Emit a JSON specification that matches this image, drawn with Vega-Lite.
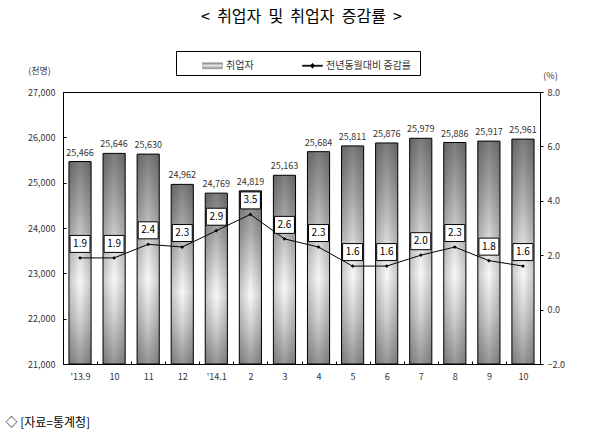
{
  "$schema": "https://vega.github.io/schema/vega-lite/v6.json",
  "width": 477,
  "height": 272,
  "autosize": {"type": "none"},
  "padding": {"left": 63, "top": 92, "right": 53, "bottom": 70},
  "background": "white",
  "title": {
    "text": "<\u00a0\u00a0취업자\u00a0\u00a0및\u00a0\u00a0취업자\u00a0\u00a0증감률\u00a0\u00a0>",
    "fontSize": 16,
    "fontWeight": "normal",
    "color": "black",
    "offset": 26
  },
  "config": {
    "font": "Noto Sans CJK KR",
    "view": {"stroke": "black", "strokeWidth": 1},
    "axis": {
      "labelFontSize": 9,
      "labelColor": "#333",
      "domainColor": "black",
      "tickColor": "black",
      "grid": false,
      "titleFontWeight": "normal",
      "titleFontSize": 9,
      "titleColor": "#333"
    }
  },
  "data": {
    "values": [
      {"ym": "2013.09", "employed": 25466, "rate": 1.9},
      {"ym": "2013.10", "employed": 25646, "rate": 1.9},
      {"ym": "2013.11", "employed": 25630, "rate": 2.4},
      {"ym": "2013.12", "employed": 24962, "rate": 2.3},
      {"ym": "2014.01", "employed": 24769, "rate": 2.9},
      {"ym": "2014.02", "employed": 24819, "rate": 3.5},
      {"ym": "2014.03", "employed": 25163, "rate": 2.6},
      {"ym": "2014.04", "employed": 25684, "rate": 2.3},
      {"ym": "2014.05", "employed": 25811, "rate": 1.6},
      {"ym": "2014.06", "employed": 25876, "rate": 1.6},
      {"ym": "2014.07", "employed": 25979, "rate": 2.0},
      {"ym": "2014.08", "employed": 25886, "rate": 2.3},
      {"ym": "2014.09", "employed": 25917, "rate": 1.8},
      {"ym": "2014.10", "employed": 25961, "rate": 1.6}
    ]
  },
  "encoding": {
    "x": {
      "field": "ym",
      "type": "nominal",
      "sort": null,
      "scale": {"paddingInner": 0.35, "paddingOuter": 0.175},
      "axis": {
        "title": "◇ [자료=통계청]",
        "titleX": -58,
        "titleY": 58,
        "titleAlign": "left",
        "titleBaseline": "middle",
        "titleFontSize": 12,
        "titleColor": "black",
        "labelAngle": 0,
        "labelPadding": 11,
        "tickSize": -3,
        "tickOffset": -17,
        "labelOffset": 17,
        "labelExpr": "(substring(datum.value, 5, 7) == '01' || datum.value == '2013.09') ? \"'\" + substring(datum.value, 2, 4) + '.' + toNumber(substring(datum.value, 5, 7)) : '' + toNumber(substring(datum.value, 5, 7))"
      }
    }
  },
  "layer": [
    {
      "encoding": {
        "y": {
          "field": "employed",
          "type": "quantitative",
          "scale": {"domain": [21000, 27000], "zero": false, "nice": false},
          "axis": {
            "orient": "left",
            "values": [21000, 22000, 23000, 24000, 25000, 26000, 27000],
            "format": ",d",
            "tickSize": -3,
            "labelPadding": 11,
            "title": "(천명)",
            "titleAngle": 0,
            "titleX": -24,
            "titleY": -22,
            "titleAlign": "center",
            "titleBaseline": "middle"
          }
        },
        "y2": {"datum": 21000}
      },
      "layer": [
        {
          "mark": {
            "type": "bar",
            "strokeWidth": 0,
            "fill": {
              "gradient": "linear",
              "x1": 0, "y1": 0, "x2": 0, "y2": 1,
              "stops": [
                {"offset": 0, "color": "#7c7c7c"},
                {"offset": 0.25, "color": "#aeaeae"},
                {"offset": 0.5, "color": "#e6e6e6"},
                {"offset": 0.6, "color": "#f8f8f8"},
                {"offset": 0.78, "color": "#d2d2d2"},
                {"offset": 1, "color": "#969696"}
              ]
            }
          }
        },
        {
          "mark": {
            "type": "bar",
            "stroke": "black",
            "strokeWidth": 1,
            "fill": {
              "gradient": "linear",
              "x1": 0, "y1": 0, "x2": 1, "y2": 0,
              "stops": [
                {"offset": 0, "color": "rgba(0,0,0,0.2)"},
                {"offset": 0.5, "color": "rgba(0,0,0,0)"},
                {"offset": 1, "color": "rgba(0,0,0,0.2)"}
              ]
            }
          }
        },
        {
          "mark": {"type": "text", "baseline": "bottom", "dy": -4, "fontSize": 9, "color": "#333"},
          "encoding": {"text": {"field": "employed", "type": "quantitative", "format": ","}, "y2": null}
        }
      ]
    },
    {
      "encoding": {
        "y": {
          "field": "rate",
          "type": "quantitative",
          "scale": {"domain": [-2, 8], "nice": false},
          "axis": {
            "orient": "right",
            "values": [-2, 0, 2, 4, 6, 8],
            "format": ".1f",
            "tickSize": 3,
            "labelPadding": 4,
            "title": "(%)",
            "titleAngle": 0,
            "titleX": 10,
            "titleY": -17,
            "titleAlign": "center",
            "titleBaseline": "middle"
          }
        }
      },
      "layer": [
        {
          "mark": {"type": "line", "strokeWidth": 1},
          "encoding": {
            "color": {
              "datum": "전년동월대비 증감률",
              "scale": {"domain": ["취업자", "전년동월대비 증감률"], "range": ["#a0a0a0", "black"]},
              "legend": {
                "title": "\u00a0",
                "titleOrient": "right",
                "titlePadding": 5,
                "titleFontSize": 9,
                "orient": "none",
                "legendX": 113,
                "legendY": -41,
                "direction": "horizontal",
                "strokeColor": "black",
                "padding": 4,
                "symbolOffset": 22,
                "columnPadding": 26,
                "labelFontSize": 10,
                "labelColor": "#333",
                "labelOffset": 3,
                "symbolSize": 400,
                "encode": {
                  "symbols": {
                    "update": {
                      "shape": {"signal": "datum.value == '취업자' ? 'M-1,-0.3H1V0.3H-1Z' : 'M-1,-0.05H1V0.05H-1ZM-0.2,0L0,-0.25L0.2,0L0,0.25Z'"},
                      "fill": {"signal": "datum.value == '취업자' ? {gradient: 'linear', x1: 0, y1: 0, x2: 0, y2: 1, stops: [{offset: 0, color: '#777777'}, {offset: 0.5, color: '#eeeeee'}, {offset: 1, color: '#777777'}]} : 'black'"},
                      "stroke": {"signal": "datum.value == '취업자' ? 'black' : 'transparent'"},
                      "strokeWidth": {"value": 0.7},
                      "opacity": {"value": 1}
                    }
                  }
                }
              }
            }
          }
        },
        {
          "mark": {"type": "point", "shape": "diamond", "size": 14, "filled": true, "color": "black", "opacity": 1}
        },
        {
          "mark": {
            "type": "point",
            "shape": "M-1,-0.85H1V0.85H-1Z",
            "size": 400,
            "filled": true,
            "fill": "white",
            "stroke": "black",
            "strokeWidth": 1,
            "opacity": 1,
            "yOffset": -14
          }
        },
        {
          "mark": {"type": "text", "baseline": "middle", "dy": -14, "fontSize": 10, "color": "black"},
          "encoding": {"text": {"field": "rate", "type": "quantitative", "format": ".1f"}}
        }
      ]
    }
  ],
  "resolve": {"scale": {"y": "independent"}}
}
